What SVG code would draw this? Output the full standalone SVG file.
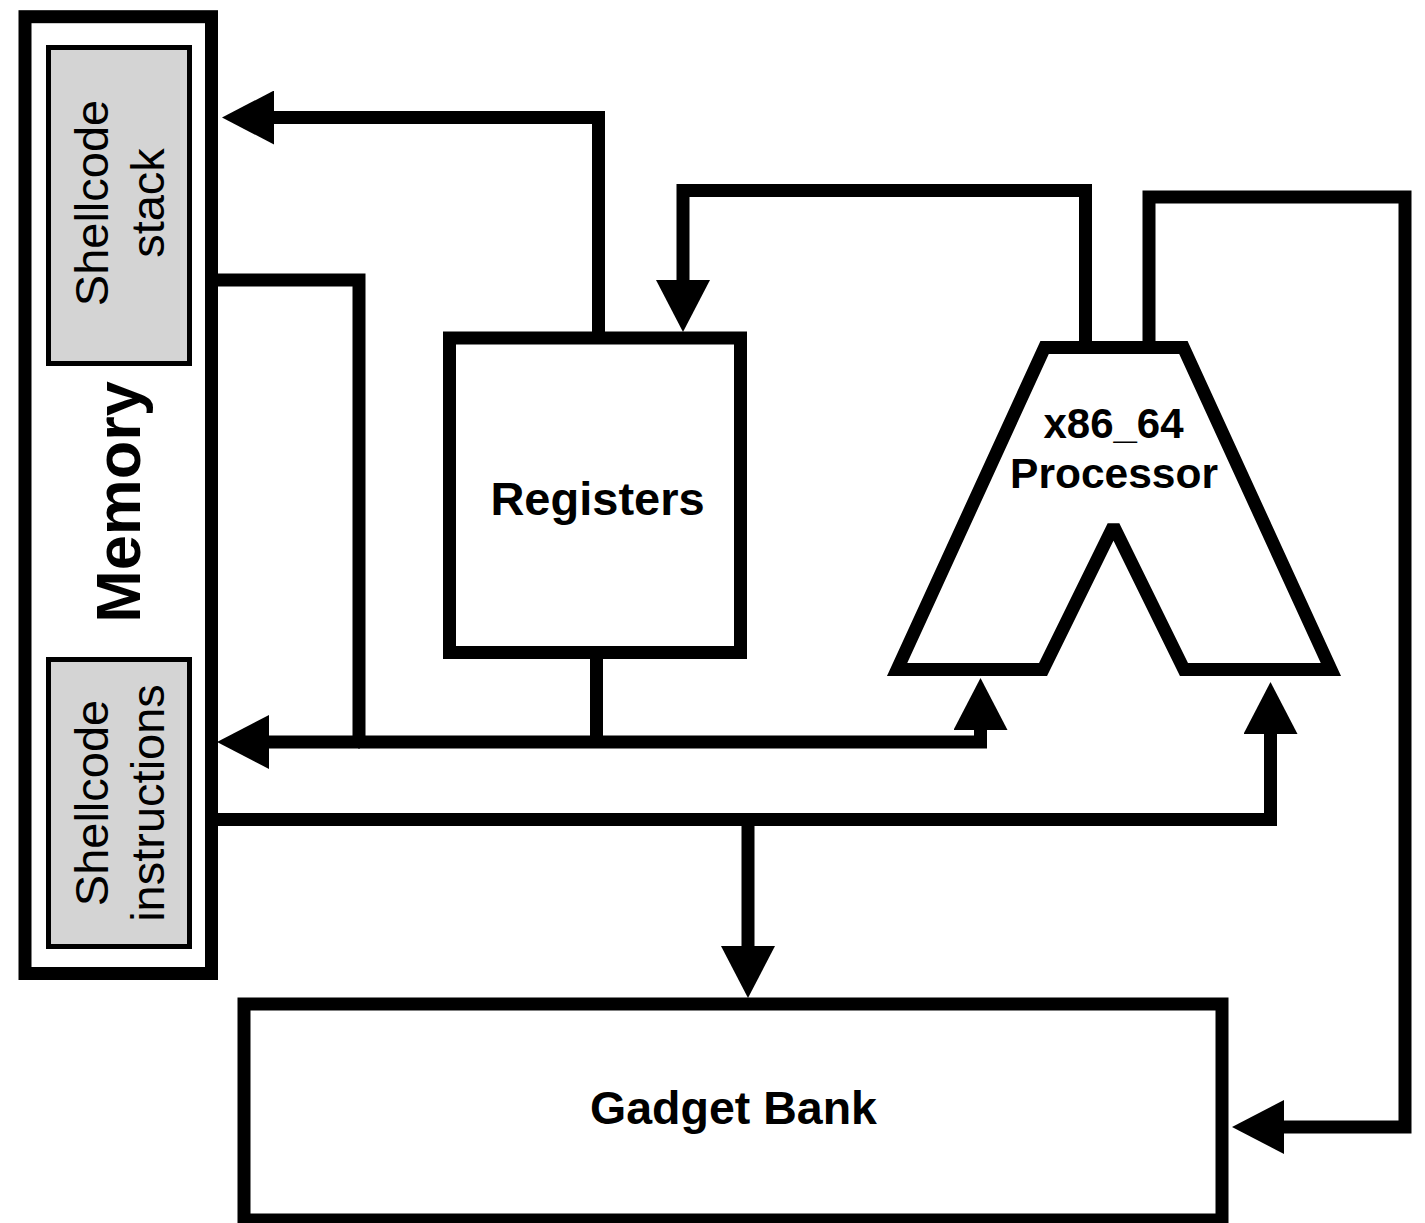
<svg xmlns="http://www.w3.org/2000/svg" width="1425" height="1223" viewBox="0 0 1425 1223">
<style>
.box{fill:#fff;stroke:#000;stroke-width:13;stroke-linejoin:miter}
.sub{fill:#d4d4d4;stroke:#000;stroke-width:5}
.wire{fill:none;stroke:#000;stroke-width:13;stroke-linejoin:miter;stroke-linecap:butt}
.lbl{font-family:"Liberation Sans",Arial,Helvetica,sans-serif;fill:#000;text-anchor:middle}
.b{font-weight:bold}
</style>
<defs>
<marker id="ah" markerUnits="userSpaceOnUse" viewBox="0 0 52 54" refX="0" refY="27" markerWidth="52" markerHeight="54" orient="auto">
<path d="M0,0 L52,27 L0,54 Z" fill="#000"/>
</marker>
</defs>
<rect width="1425" height="1223" fill="#fff"/>

<g id="memory">
<rect class="box" x="25" y="16.7" width="186.5" height="956.8"/>
<text class="lbl b" font-size="63" transform="translate(140,502) rotate(-90)">Memory</text>
</g>
<g id="shellcode-stack">
<rect class="sub" x="48.5" y="47.5" width="141" height="316"/>
<text class="lbl" font-size="47" transform="translate(108,203) rotate(-90)">Shellcode</text>
<text class="lbl" font-size="47" transform="translate(164,203) rotate(-90)">stack</text>
</g>
<g id="shellcode-instructions">
<rect class="sub" x="48.5" y="659.5" width="141" height="287"/>
<text class="lbl" font-size="47" transform="translate(108,803) rotate(-90)">Shellcode</text>
<text class="lbl" font-size="47" transform="translate(164,803) rotate(-90)">instructions</text>
</g>
<g id="registers">
<rect class="box" x="449.5" y="338" width="291" height="314.5"/>
<text class="lbl b" font-size="47" x="597.5" y="515">Registers</text>
</g>
<g id="processor">
<polygon class="box" style="stroke-miterlimit:2" points="1044.6,347.5 1183.4,347.5 1330.9,669.5 1184,669.5 1113.5,526 1043,669.5 897.1,669.5"/>
<text class="lbl b" font-size="42" x="1113.5" y="438">x86_64</text>
<text class="lbl b" font-size="42.5" x="1114" y="488">Processor</text>
</g>
<g id="gadget-bank">
<rect class="box" x="244" y="1004" width="978" height="216"/>
<text class="lbl b" font-size="46.5" x="733.5" y="1124">Gadget Bank</text>
</g>

<g id="connectors">
<path class="wire" d="M598.5,332 V117.5 H274" marker-end="url(#ah)"/>
<path class="wire" d="M218,280 H359 V742"/>
<path class="wire" d="M596.5,659 V742"/>
<path class="wire" d="M360,742 H269" marker-end="url(#ah)"/>
<path class="wire" d="M358,742 H980.5 V730" marker-end="url(#ah)"/>
<path class="wire" d="M218,819.5 H1270.5 V734" marker-end="url(#ah)"/>
<path class="wire" d="M748,819.5 V946" marker-end="url(#ah)"/>
<path class="wire" d="M1085.5,341 V190.5 H683 V280" marker-end="url(#ah)"/>
<path class="wire" d="M1149,341 V197 H1405 V1127 H1284" marker-end="url(#ah)"/>
</g>
</svg>
